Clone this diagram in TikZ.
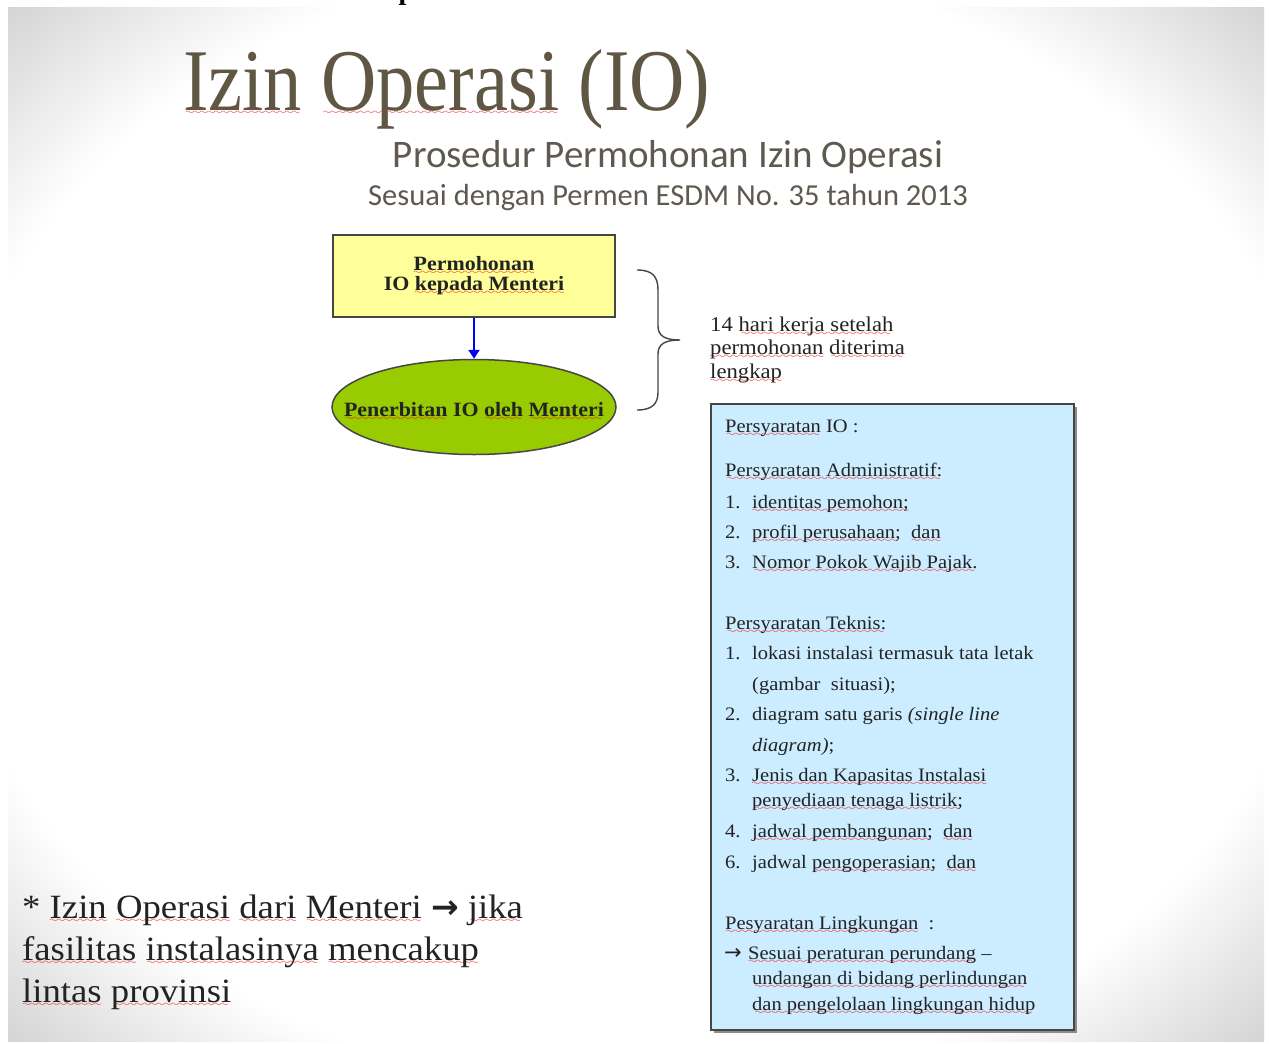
\documentclass[tikz,border=0pt]{standalone}
\usepackage{fontspec}
\usetikzlibrary{shapes.geometric,arrows.meta}
\setmainfont{Liberation Serif}
\newfontfamily\cam[FakeStretch=1.08]{Liberation Serif}
\newfontfamily\titlefont[FakeStretch=0.87]{Liberation Serif}
\newfontfamily\calib{Carlito}
\newfontfamily\arrowfont{DejaVu Sans}
\definecolor{titlec}{RGB}{95,87,68}
\definecolor{subc}{RGB}{95,90,80}
\definecolor{bodyc}{RGB}{35,35,35}
\definecolor{yellowbox}{RGB}{255,255,153}
\definecolor{greenell}{RGB}{153,204,0}
\definecolor{bluebox}{RGB}{204,236,255}
\definecolor{edgec}{RGB}{70,70,70}
\definecolor{shadowc}{RGB}{140,140,140}
\definecolor{arrowblue}{RGB}{0,0,255}
\definecolor{wavered}{RGB}{255,0,0}
\font\wavefnt=lasy6 at 8.5pt
\newsavebox\sqbox
\newcommand\sq[1]{\sbox\sqbox{#1}\rlap{\textcolor{wavered}{\lower4pt\hbox to\wd\sqbox{\cleaders\hbox{\wavefnt\char58}\hfil}}}\usebox\sqbox}
\pgfdeclareradialshading{slidebg}{\pgfpoint{0bp}{0bp}}{color(0bp)=(white); color(27.5bp)=(white); color(35.4bp)=(black!17); color(50bp)=(black!17)}
\tikzset{
  txt/.style={anchor=base west, inner sep=0pt, text=bodyc},
  boxtxt/.style={txt, font=\cam\fontsize{19}{22}\selectfont},
  flowtxt/.style={inner sep=0pt, text=bodyc, font=\cam\bfseries\fontsize{20.3}{21}\selectfont},
  flowbox/.style={draw=edgec, line width=1.5pt, inner sep=0pt},
}
\begin{document}
\begin{tikzpicture}[x=1pt,y=-1pt]
\useasboundingbox (0,0) rectangle (1269,1044);
% slide background
\shade[shading=slidebg] (8,7) rectangle (1264,1041);
% cut heading above the slide
\begin{scope}
\clip (0,0) rectangle (1269,7);
\node[anchor=base west, inner sep=0pt, font=\bfseries\fontsize{28}{28}\selectfont] (cut) at (45,-0.8) {Prosedur Permohonan Izin Operasi};
\end{scope}
% titles
\node[anchor=base west, inner sep=0pt, font=\titlefont\fontsize{88}{88}\selectfont, text=titlec] (title) at (183,110) {\sq{Izin} \sq{Operasi} (IO)};
\node[anchor=base, inner sep=0pt, font=\calib\fontsize{39}{39}\selectfont, text=subc] (sub1) at (668,167) {Prosedur Permohonan Izin Operasi};
\node[anchor=base, inner sep=0pt, font=\calib\fontsize{30.5}{30.5}\selectfont, text=subc] (sub2) at (668,205) {Sesuai dengan Permen ESDM No. 35 tahun 2013};
% flow
\node[flowbox, rectangle, fill=yellowbox, minimum width=282pt, minimum height=82pt] (req) at (474,276) {};
\node[flowtxt, align=center] (reqtxt) at (474,276) {\sq{Permohonan}\\[-1pt]IO \sq{kepada Menteri}};
\node[flowbox, ellipse, fill=greenell, minimum width=284pt, minimum height=95pt] (iss) at (474,407) {};
\node[flowtxt] (isstxt) at (474,411) {\sq{Penerbitan} IO \sq{oleh} \sq{Menteri}};
\draw[arrowblue, line width=2.5pt, -{Triangle[width=11pt,length=9pt]}] (req.south) -- (iss.north);
% brace
\draw[edgec, line width=1.4pt] (637,270) .. controls (652,270) and (658,276) .. (658,290) -- (658,326) .. controls (658,336) and (665,340) .. (680,340) .. controls (665,340) and (658,344) .. (658,354) -- (658,392) .. controls (658,404) and (652,410) .. (637,410);
\node[txt, font=\cam\fontsize{21}{21}\selectfont] (h1) at (710,331) {14 \sq{hari kerja setelah}};
\node[txt, font=\cam\fontsize{21}{21}\selectfont] (h2) at (710,354) {\sq{permohonan} \sq{diterima}};
\node[txt, font=\cam\fontsize{21}{21}\selectfont] (h3) at (710,378) {\sq{lengkap}};
% requirements box
\fill[shadowc] (714,407) rectangle (1077,1033);
\draw[draw=edgec, line width=2.5pt, fill=bluebox] (711,404) rectangle (1074,1030);
\node[boxtxt] (p1) at (725,432) {\sq{Persyaratan} IO :};
\node[boxtxt] (p2) at (725,476) {\sq{Persyaratan Administratif:}};
\node[boxtxt] (n1) at (725,508) {1.};
\node[boxtxt] (t1) at (752,508) {\sq{identitas pemohon;}};
\node[boxtxt] (n2) at (725,538) {2.};
\node[boxtxt] (t2) at (752,538) {\sq{profil perusahaan;}\ \ \sq{dan}};
\node[boxtxt] (n3) at (725,568) {3.};
\node[boxtxt] (t3) at (752,568) {\sq{Nomor Pokok Wajib Pajak.}};
\node[boxtxt] (p3) at (725,629) {\sq{Persyaratan Teknis:}};
\node[boxtxt] (n4) at (725,659) {1.};
\node[boxtxt] (t4) at (752,659) {lokasi instalasi termasuk tata letak};
\node[boxtxt] (t5) at (752,690) {(gambar\ \ situasi);};
\node[boxtxt] (n6) at (725,720) {2.};
\node[boxtxt] (t6) at (752,720) {diagram satu garis \textit{(single line}};
\node[boxtxt] (t7) at (752,751) {\textit{diagram)};};
\node[boxtxt] (n8) at (725,781) {3.};
\node[boxtxt] (t8) at (752,781) {\sq{Jenis dan Kapasitas Instalasi}};
\node[boxtxt] (t9) at (752,806) {\sq{penyediaan tenaga listrik;}};
\node[boxtxt] (n10) at (725,837) {4.};
\node[boxtxt] (t10) at (752,837) {\sq{jadwal pembangunan;}\ \ \sq{dan}};
\node[boxtxt] (n11) at (725,868) {6.};
\node[boxtxt] (t11) at (752,868) {jadwal \sq{pengoperasian;}\ \ \sq{dan}};
\node[boxtxt] (p4) at (725,929) {\sq{Pesyaratan Lingkungan}\ \ :};
\node[boxtxt] (a1) at (724,959) {{\arrowfont\fontsize{21}{21}\selectfont →}};
\node[boxtxt] (t12) at (748,959) {\sq{Sesuai peraturan perundang} –};
\node[boxtxt] (t13) at (752,984) {\sq{undangan di bidang perlindungan}};
\node[boxtxt] (t14) at (752,1010) {\sq{dan pengelolaan lingkungan hidup}};
% note
\node[txt, font=\cam\fontsize{34}{34}\selectfont] (b1) at (22,918) {* \sq{Izin} \sq{Operasi} \sq{dari} \sq{Menteri} {\arrowfont\bfseries\fontsize{33}{33}\selectfont →} \sq{jika}};
\node[txt, font=\cam\fontsize{34}{34}\selectfont] (b2) at (22,960) {\sq{fasilitas} \sq{instalasinya} \sq{mencakup}};
\node[txt, font=\cam\fontsize{34}{34}\selectfont] (b3) at (22,1002) {\sq{lintas} \sq{provinsi}};
\end{tikzpicture}
\end{document}
